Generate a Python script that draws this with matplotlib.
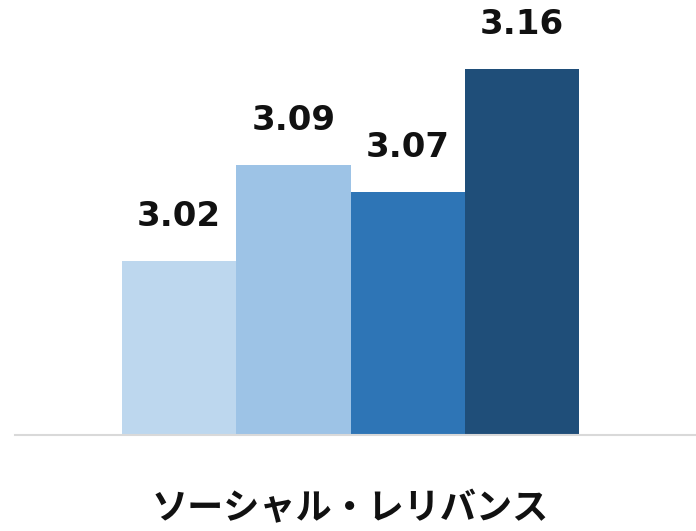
import matplotlib
matplotlib.use("Agg")
import matplotlib.pyplot as plt

# Data
category = "ソーシャル・レリバンス"
values = [3.02, 3.09, 3.07, 3.16]
colors = ["#BDD7EE", "#9DC3E6", "#2E75B6", "#1F4E79"]

plt.rcParams['font.family'] = ['Noto Sans CJK JP', 'DejaVu Sans']

fig = plt.figure(figsize=(6.96, 5.31), dpi=100)
ax = fig.add_axes([15 / 696, 96 / 531, 1 - 15 / 696, 1 - 96 / 531])

positions = list(range(len(values)))
bars = ax.bar(positions, values, width=1.0, color=colors, edgecolor="none")

ax.set_xlim(-1.437, 4.524)
ax.set_ylim(2.893, 3.210)

for b, v in zip(bars, values):
    ax.annotate(f"{v:.2f}", xy=(b.get_x() + b.get_width() / 2, b.get_height()),
                xytext=(0, 20), textcoords="offset points",
                ha="center", va="bottom", fontsize=24.5, fontweight="bold",
                family="DejaVu Sans", color="#111111")

for s in ["top", "right", "left"]:
    ax.spines[s].set_visible(False)
ax.spines["bottom"].set_color("#D9D9D9")
ax.spines["bottom"].set_linewidth(1.5)
ax.set_yticks([])
ax.set_xticks([1.5])
ax.set_xticklabels([category], fontsize=26, fontweight="bold", color="#111111")
ax.tick_params(axis="x", length=0, pad=40)

fig.savefig("out.png", dpi=100)
